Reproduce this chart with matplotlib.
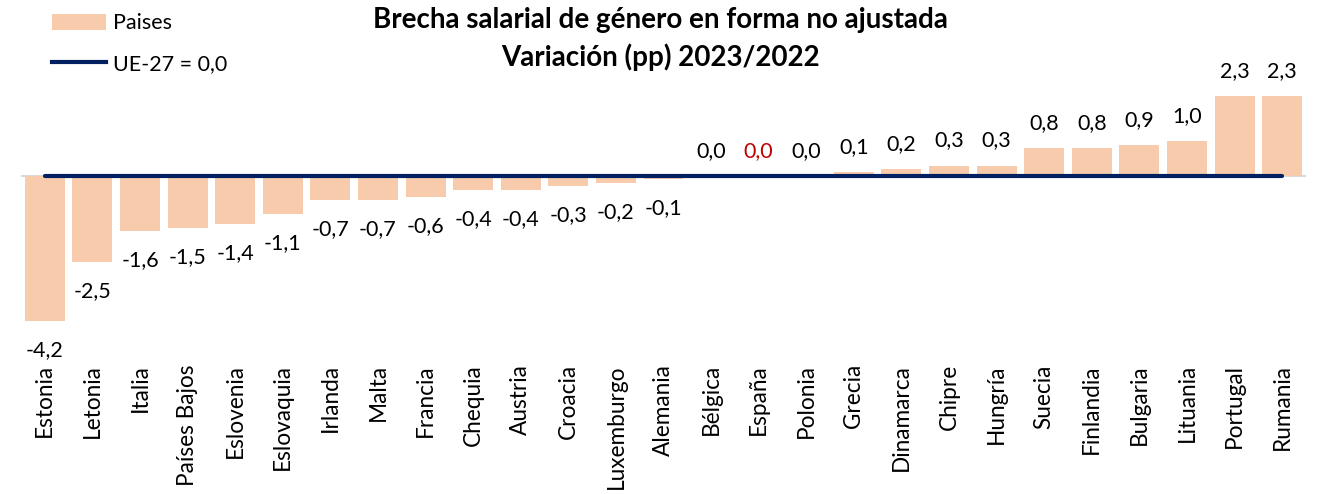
import matplotlib
matplotlib.use("Agg")
import matplotlib.pyplot as plt
from matplotlib.patches import Patch
from matplotlib.lines import Line2D

plt.rcParams['font.family'] = ['Lato', 'DejaVu Sans']

paises = ["Estonia", "Letonia", "Italia", "Países Bajos", "Eslovenia", "Eslovaquia",
          "Irlanda", "Malta", "Francia", "Chequia", "Austria", "Croacia", "Luxemburgo",
          "Alemania", "Bélgica", "España", "Polonia", "Grecia", "Dinamarca", "Chipre",
          "Hungría", "Suecia", "Finlandia", "Bulgaria", "Lituania", "Portugal", "Rumania"]
variacion = [-4.2, -2.5, -1.6, -1.5, -1.4, -1.1, -0.7, -0.7, -0.6, -0.4, -0.4, -0.3, -0.2,
             -0.1, 0.0, 0.0, 0.0, 0.1, 0.2, 0.3, 0.3, 0.8, 0.8, 0.9, 1.0, 2.3, 2.3]
ue27 = [0.0] * len(paises)

bar_color = "#F8CBAD"
line_color = "#002060"

fig = plt.figure(figsize=(13.2, 4.94), dpi=100)
ax = fig.add_axes([21/1320, 1 - 360/494, (1306-21)/1320, 300/494])

x = list(range(len(paises)))
ax.bar(x, variacion, width=0.84, color=bar_color, zorder=2)
ax.axhline(0, color="#D9D9D9", lw=1.5, zorder=1)
ax.plot(x, ue27, color=line_color, lw=3, zorder=3, solid_capstyle='round')

ax.set_xlim(-0.5, len(paises) - 0.5)
ax.set_ylim(-5.32, 3.35)

for xi, v, name in zip(x, variacion, paises):
    lab = f"{v:.1f}".replace(".", ",")
    col = "#C00000" if name == "España" else "black"
    if v >= 0:
        ax.annotate(lab, (xi, v), xytext=(0, 18), textcoords="offset points",
                    ha="center", va="center", fontsize=15.5, color=col)
    else:
        ax.annotate(lab, (xi, v), xytext=(0, -21), textcoords="offset points",
                    ha="center", va="center", fontsize=15.5, color=col)

ax.set_xticks(x)
ax.set_xticklabels(paises, rotation=90, fontsize=16.3)
ax.tick_params(axis="x", length=0, pad=3)
ax.set_yticks([])
for s in ax.spines.values():
    s.set_visible(False)

fig.text(0.5, 1 - 20/494, "Brecha salarial de género en forma no ajustada",
         ha="center", va="center", fontsize=20, fontweight="bold")
fig.text(0.5, 1 - 57/494, "Variación (pp) 2023/2022",
         ha="center", va="center", fontsize=20, fontweight="bold")

handles = [Patch(facecolor=bar_color, edgecolor="none", label="Paises"),
           Line2D([0], [0], color=line_color, lw=3, label="UE-27 = 0,0")]
fig.legend(handles=handles, loc="upper left", bbox_to_anchor=(33/1320, 1 + 6/494),
           frameon=False, fontsize=15.5, handlelength=2.5, handleheight=0.8,
           labelspacing=0.95, handletextpad=0.3)

fig.savefig("out.png", dpi=100)
